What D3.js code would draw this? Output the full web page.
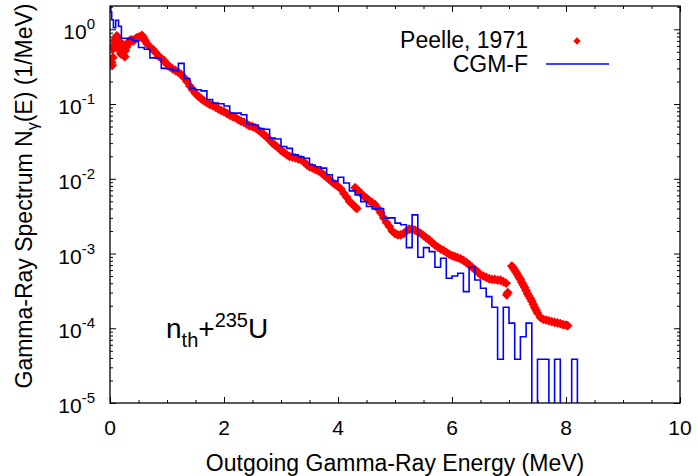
<!DOCTYPE html>
<html>
<head>
<meta charset="utf-8">
<title>Gamma-ray spectrum n_th + 235U</title>
<script src="https://d3js.org/d3.v7.min.js"></script>
<style>
    body { margin: 0; background: #fff; }
    svg text { font-family: "Liberation Sans", Arial, sans-serif; fill: #000; }
    .frame { fill: none; stroke: #000; stroke-width: 1.3px; }
    .tick line { stroke: #000; stroke-width: 1px; }
    .domain { display: none; }
</style>
</head>
<body>
<div id="chart"></div>
<script>
    // Peelle, 1971 measured spectrum (MeV, 1/MeV)
    const peelleEnergy = [
        0.03, 0.04, 0.05, 0.06, 0.07, 0.08, 0.09, 0.10, 0.11, 0.12, 0.13, 0.14, 0.15, 0.16, 0.17, 0.18, 0.19, 0.20,
        0.22, 0.23, 0.24, 0.26, 0.27, 0.29, 0.31, 0.33, 0.35, 0.38, 0.41, 0.44, 0.47, 0.50, 0.53, 0.56, 0.58, 0.60, 0.62,
        0.65, 0.70, 0.75, 0.80, 0.85, 0.90, 0.95, 1.00, 1.05, 1.10, 1.15, 1.20, 1.25, 1.30, 1.35, 1.40, 1.45, 1.50,
        1.55, 1.60, 1.65, 1.70, 1.75, 1.80, 1.85, 1.90, 1.95, 2.00, 2.05, 2.10, 2.15, 2.20, 2.25, 2.30, 2.35, 2.40,
        2.45, 2.50, 2.55, 2.60, 2.65, 2.70, 2.75, 2.80, 2.85, 2.90, 2.95, 3.00, 3.05, 3.10, 3.15, 3.20, 3.25, 3.30,
        3.35, 3.40, 3.45, 3.50, 3.55, 3.60, 3.65, 3.70, 3.75, 3.80, 3.85, 3.90, 3.95, 4.00, 4.05, 4.10, 4.15, 4.20,
        4.25, 4.30, 4.33,
        4.30, 4.35, 4.40, 4.45, 4.50, 4.55, 4.60, 4.65, 4.70, 4.75, 4.80, 4.85, 4.90, 4.95, 5.00, 5.05, 5.10, 5.15,
        5.20, 5.25, 5.30, 5.35, 5.40, 5.45, 5.50, 5.55, 5.60, 5.65, 5.70, 5.75, 5.80, 5.85, 5.90, 5.95, 6.00, 6.05,
        6.10, 6.15, 6.20, 6.25, 6.30, 6.35, 6.40, 6.45, 6.50, 6.55, 6.60, 6.65, 6.70, 6.75, 6.80, 6.85, 6.90, 6.95,
        6.96, 6.98,
        7.05, 7.075, 7.10, 7.125, 7.15, 7.175, 7.20, 7.225, 7.25, 7.275, 7.30, 7.325, 7.35, 7.375, 7.40, 7.425, 7.45,
        7.475, 7.50, 7.55, 7.60, 7.65, 7.70, 7.75, 7.80, 7.85, 7.90, 7.95, 8.00, 8.03
    ];
    const peelleValue = [
        0.36, 0.33, 0.42, 0.55, 0.62, 0.70, 0.60, 0.76, 0.68, 0.82, 0.74, 0.66, 0.58, 0.70, 0.52, 0.62, 0.47, 0.56,
        0.50, 0.62, 0.45, 0.43, 0.52, 0.58, 0.63, 0.68, 0.71, 0.72, 0.70, 0.74, 0.77, 0.78, 0.80, 0.83, 0.79, 0.74, 0.70,
        0.64, 0.58, 0.54, 0.49, 0.44, 0.41, 0.38, 0.34, 0.315, 0.295, 0.28, 0.265, 0.248, 0.225, 0.20, 0.175, 0.155, 0.138,
        0.127, 0.118, 0.110, 0.104, 0.099, 0.095, 0.091, 0.086, 0.082, 0.079, 0.075, 0.071, 0.068, 0.066, 0.062, 0.059, 0.057, 0.054,
        0.051, 0.050, 0.048, 0.045, 0.042, 0.039, 0.036, 0.033, 0.030, 0.028, 0.026, 0.024, 0.0225, 0.021, 0.020, 0.0195, 0.019, 0.0185,
        0.018, 0.0168, 0.0155, 0.0145, 0.014, 0.0133, 0.0128, 0.0122, 0.0113, 0.0105, 0.0097, 0.0090, 0.0084, 0.0079, 0.0073, 0.0064, 0.0057, 0.0050,
        0.0046, 0.0042, 0.0040,
        0.0076, 0.0070, 0.0064, 0.0059, 0.0055, 0.0051, 0.0048, 0.0045, 0.0040, 0.0035, 0.0030, 0.0026, 0.0023, 0.0020, 0.00185, 0.00178, 0.00178, 0.00185,
        0.0020, 0.00212, 0.00212, 0.00205, 0.00196, 0.00186, 0.00174, 0.00162, 0.00152, 0.0014, 0.0013, 0.00122, 0.00115, 0.0011, 0.00104, 0.00098, 0.00094, 0.00091,
        0.00088, 0.00085, 0.00081, 0.00076, 0.00071, 0.00066, 0.00061, 0.00057, 0.00052, 0.0005, 0.00048, 0.00046, 0.00045, 0.00045, 0.00044, 0.00044, 0.00042, 0.0004,
        0.00028, 0.0003,
        0.00068, 0.00064, 0.0006, 0.00056, 0.00052, 0.00048, 0.00045, 0.00041, 0.00038, 0.00035, 0.00032, 0.00029, 0.00027, 0.00025, 0.00023, 0.00021, 0.00019,
        0.000175, 0.00016, 0.00014, 0.000132, 0.000129, 0.000126, 0.000123, 0.00012, 0.000118, 0.000115, 0.000112, 0.00011, 0.000108
    ];

    // CGM-F histogram: a few narrow bins near zero, then 0.1 MeV bins from 0.2 to 8.2 MeV
    const cgmFineEdges = [0, 0.015, 0.03, 0.06, 0.1, 0.15];
    const cgmFineValues = [2.6, 1.7, 1.34, 1.05, 1.32, 1.1];
    const cgmStart = 0.2;
    const cgmBinWidth = 0.1;
    const cgmValues = [
        0.76, 0.75, 0.70, 0.57, 0.54, 0.415, 0.41, 0.30, 0.295, 0.28, 0.35, 0.22, 0.162, 0.155, 0.150, 0.115, 0.103, 0.101,
        0.094, 0.0755, 0.0755, 0.072, 0.054, 0.0525, 0.047, 0.046, 0.035, 0.034, 0.027, 0.0255, 0.0209, 0.0197, 0.0188, 0.0153,
        0.0145, 0.0139, 0.0113, 0.0093, 0.0105, 0.0088, 0.0069, 0.0061, 0.00495, 0.00425, 0.00396, 0.0040, 0.00297, 0.0030,
        0.00255, 0.00243, 0.0012, 0.00329, 0.00089, 0.0012, 0.00106, 0.000655, 0.000865, 0.000467, 0.0005, 0.000545, 0.000309,
        0.000655, 0.000443, 0.000343, 0.000265, 0.000191, 3.85e-5, 0.000191, 0.000117, 3.85e-5, 7.7e-5, 0.000117, 0, 3.85e-5,
        3.85e-5, 0, 3.85e-5, 0, 0, 3.85e-5
    ];

    const xMajorTicks = [0, 2, 4, 6, 8, 10];
    const yDecades = [-5, -4, -3, -2, -1, 0];
    const legendLabels = ["Peelle, 1971", "CGM-F"];

    const width = 698, height = 476;
    const plot = { left: 110, right: 680, top: 6, bottom: 403 };

    const svg = d3.select("#chart").append("svg")
        .attr("width", width)
        .attr("height", height);

    const x = d3.scaleLinear().domain([0, 10]).range([plot.left, plot.right]);
    const y = d3.scaleLog().domain([1e-5, 2.05]).range([plot.bottom, plot.top]);

    svg.append("clipPath").attr("id", "clip")
        .append("rect")
        .attr("x", plot.left).attr("y", plot.top)
        .attr("width", plot.right - plot.left).attr("height", plot.bottom - plot.top);

    // ticks (gnuplot style: inward, mirrored)
    const xMinor = d3.range(0, 10.01, 0.5).filter(v => xMajorTicks.indexOf(v) < 0);
    const yMajor = yDecades.map(d => Math.pow(10, d));
    const yMinor = [];
    yDecades.forEach(d => { for (let m = 2; m <= 9; m++) { const v = m * Math.pow(10, d); if (v <= 2.05) yMinor.push(v); } });

    function tickGroup(axis, tr) {
        svg.append("g").attr("transform", tr).call(axis).selectAll("text").remove();
    }
    tickGroup(d3.axisBottom(x).tickValues(xMajorTicks).tickSize(-6), `translate(0,${plot.bottom})`);
    tickGroup(d3.axisBottom(x).tickValues(xMinor).tickSize(-3), `translate(0,${plot.bottom})`);
    tickGroup(d3.axisTop(x).tickValues(xMajorTicks).tickSize(-6), `translate(0,${plot.top})`);
    tickGroup(d3.axisTop(x).tickValues(xMinor).tickSize(-3), `translate(0,${plot.top})`);
    tickGroup(d3.axisLeft(y).tickValues(yMajor).tickSize(-6), `translate(${plot.left},0)`);
    tickGroup(d3.axisLeft(y).tickValues(yMinor).tickSize(-3), `translate(${plot.left},0)`);
    tickGroup(d3.axisRight(y).tickValues(yMajor).tickSize(-6), `translate(${plot.right},0)`);
    tickGroup(d3.axisRight(y).tickValues(yMinor).tickSize(-3), `translate(${plot.right},0)`);

    // tick labels
    svg.append("g").selectAll("text").data(xMajorTicks).join("text")
        .attr("x", d => x(d)).attr("y", 435)
        .attr("text-anchor", "middle")
        .style("font-size", "21px")
        .text(d => d);

    const yLab = svg.append("g").selectAll("text").data(yDecades).join("text")
        .attr("x", 95).attr("y", d => y(Math.pow(10, d)) + 10)
        .attr("text-anchor", "end")
        .style("font-size", "21px");
    yLab.append("tspan").text("10");
    yLab.append("tspan").attr("dy", -10).style("font-size", "15px").text(d => d);

    // axis titles
    svg.append("text")
        .attr("x", (plot.left + plot.right) / 2).attr("y", 471)
        .attr("text-anchor", "middle")
        .style("font-size", "23px")
        .text("Outgoing Gamma-Ray Energy (MeV)");

    const yt = svg.append("text")
        .attr("transform", "translate(32,196) rotate(-90)")
        .attr("text-anchor", "middle")
        .style("font-size", "23px");
    yt.append("tspan").text("Gamma-Ray Spectrum N");
    yt.append("tspan").attr("dy", 6).style("font-size", "16px").text("\u03b3");
    yt.append("tspan").attr("dy", -6).text("(E) (1/MeV)");

    const body = svg.append("g").attr("clip-path", "url(#clip)");

    // Peelle data points (drawn first, histogram sits on top)
    const diamond = d3.symbol().type(d3.symbolDiamond2).size(60);
    body.append("g").selectAll("path").data(peelleEnergy).join("path")
        .attr("transform", (d, i) => `translate(${x(d)},${y(peelleValue[i])})`)
        .attr("fill", "#ff0000")
        .attr("d", diamond);

    // CGM-F histogram
    const cgmEdges = cgmFineEdges.concat(cgmValues.map((v, i) => +(cgmStart + i * cgmBinWidth).toFixed(2)));
    const cgmAll = cgmFineValues.concat(cgmValues);
    const lastEdge = +(cgmStart + cgmValues.length * cgmBinWidth).toFixed(2);
    const steps = cgmAll.map((v, i) => [cgmEdges[i], v]);
    steps.push([lastEdge, cgmAll[cgmAll.length - 1]]);
    steps.push([lastEdge, 0]);
    const yy = v => v > 0 ? y(v) : plot.bottom + 10;

    body.append("path")
        .datum(steps)
        .attr("fill", "none")
        .attr("stroke", "#0000ff")
        .attr("stroke-width", 1.6)
        .attr("d", d3.line().x(d => x(d[0])).y(d => yy(d[1])).curve(d3.curveStepAfter));

    // frame
    svg.append("rect").attr("class", "frame")
        .attr("x", plot.left).attr("y", plot.top)
        .attr("width", plot.right - plot.left).attr("height", plot.bottom - plot.top);

    // legend
    const leg = svg.append("g");
    leg.append("text").attr("x", 528).attr("y", 48).attr("text-anchor", "end")
        .style("font-size", "23px").text(legendLabels[0]);
    leg.append("path").attr("transform", "translate(577,41)").attr("fill", "#ff0000")
        .attr("d", d3.symbol().type(d3.symbolDiamond2).size(34)());
    leg.append("text").attr("x", 528).attr("y", 72).attr("text-anchor", "end")
        .style("font-size", "23px").text(legendLabels[1]);
    leg.append("line").attr("x1", 546).attr("x2", 609).attr("y1", 64).attr("y2", 64)
        .attr("stroke", "#0000ff").attr("stroke-width", 1.6);

    // reaction label
    const lab = svg.append("text").attr("x", 166).attr("y", 338).style("font-size", "28px");
    lab.append("tspan").text("n");
    lab.append("tspan").attr("dy", 9).style("font-size", "20px").text("th");
    lab.append("tspan").attr("dy", -9).text("+");
    lab.append("tspan").attr("dy", -11).style("font-size", "20px").text("235");
    lab.append("tspan").attr("dy", 11).text("U");
</script>
</body>
</html>
